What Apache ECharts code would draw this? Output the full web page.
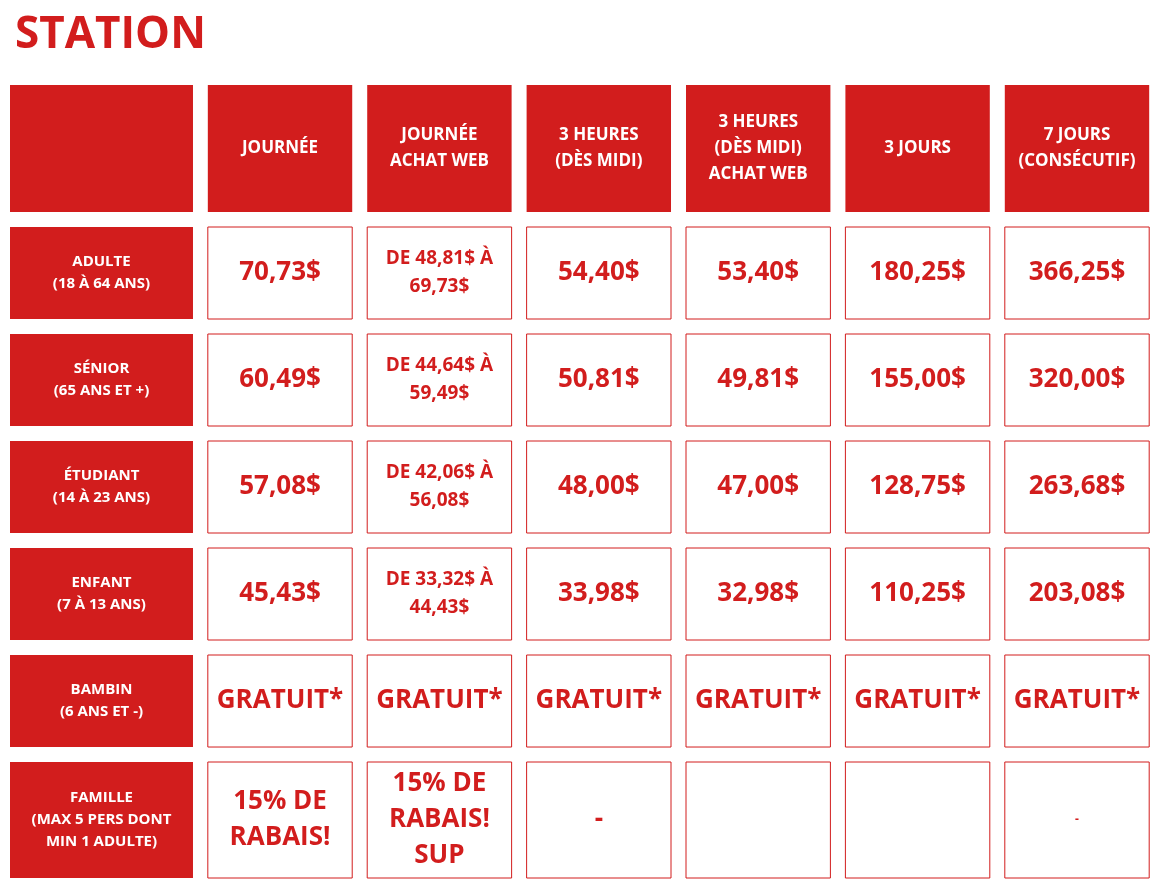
<!DOCTYPE html>
<html><head><meta charset="utf-8">
<script src="https://cdn.jsdelivr.net/npm/echarts@6/dist/echarts.min.js"></script>
<style>html,body{margin:0;background:#fff}#c{width:1150px;height:879px}</style>
</head><body><div id="c"></div>
<script>
const title = 'STATION';
const headers = ['', 'JOURNÉE', 'JOURNÉE\n{u|ACHAT WEB}', '3 HEURES\n(DÈS MIDI)', '3 HEURES\n(DÈS MIDI)\n{u|ACHAT WEB}', '3 JOURS', '7 JOURS\n(CONSÉCUTIF)'];
const rowLabels = ['ADULTE\n(18 À 64 ANS)', 'SÉNIOR\n(65 ANS ET +)', 'ÉTUDIANT\n(14 À 23 ANS)', 'ENFANT\n(7 À 13 ANS)', 'BAMBIN\n(6 ANS ET -)', 'FAMILLE\n(MAX 5 PERS DONT\nMIN 1 ADULTE)'];
const values = [
  ['70,73$', 'DE 48,81$ À\n69,73$', '54,40$', '53,40$', '180,25$', '366,25$'],
  ['60,49$', 'DE 44,64$ À\n59,49$', '50,81$', '49,81$', '155,00$', '320,00$'],
  ['57,08$', 'DE 42,06$ À\n56,08$', '48,00$', '47,00$', '128,75$', '263,68$'],
  ['45,43$', 'DE 33,32$ À\n44,43$', '33,98$', '32,98$', '110,25$', '203,08$'],
  ['GRATUIT*', 'GRATUIT*', 'GRATUIT*', 'GRATUIT*', 'GRATUIT*', 'GRATUIT*'],
  ['15% DE\nRABAIS!', '15% DE\nRABAIS!\nSUP', '-', '', '', '-']
];
const RED = '#d21d1d';
const data = [];
headers.forEach((h, c) => data.push([c, 0, h]));
rowLabels.forEach((l, r) => {
  data.push([0, r + 1, l]);
  values[r].forEach((v, c) => data.push([c + 1, r + 1, v]));
});
function renderItem(params, api) {
  const c = api.value(0), r = api.value(1), txt = data[params.dataIndex][2];
  let cx = c, cy = r, w = 1 - 15 / 159.4, h = 1 - 15 / 107;
  if (c === 0) { cx = -0.12; w = 1.148; }
  if (r === 0) { cy = -0.164; h = 1.187; }
  if (r === 6) { cy = 6.112; h = 1.084; }
  const p = api.coord([cx, cy]);
  const s = api.size([w, h]);
  const filled = c === 0 || r === 0;
  let fs = 26, lh = 31;
  if (filled) { fs = r === 0 ? 17 : 15; lh = r === 0 ? 26 : 22; }
  else if (txt.startsWith('DE ')) { fs = 19; lh = 28; }
  else if (r === 6) { fs = 26; lh = 36; if (c === 6) fs = 12; }
  return {
    type: 'group',
    children: [
      { type: 'rect', shape: { x: p[0] - s[0] / 2, y: p[1] - s[1] / 2, width: s[0], height: s[1] },
        style: { fill: filled ? RED : '#fff', stroke: filled ? null : RED, lineWidth: 1 } },
      { type: 'text', x: p[0], y: p[1],
        style: { text: txt, fill: filled ? '#fff' : RED, align: 'center', verticalAlign: 'middle',
          font: 'bold ' + fs + 'px "Open Sans", sans-serif', lineHeight: lh,
          rich: { u: { fill: '#fff', fontSize: fs, fontWeight: 'bold', fontFamily: 'Open Sans', lineHeight: lh,
            borderWidth: 0, padding: [0, 0, 0, 0] } } } }
    ]
  };
}
const chart = echarts.init(document.getElementById('c'));
chart.setOption({
  animation: false,
  title: { text: title, left: 10, top: 8, textStyle: { color: RED, fontSize: 44, fontWeight: 'bold', fontFamily: 'Open Sans' } },
  grid: { left: 10, right: 0, top: 85, bottom: 1 },
  xAxis: { type: 'value', min: -0.694, max: 6.458, show: false },
  yAxis: { type: 'value', min: -0.757, max: 6.654, inverse: true, show: false },
  series: [{ type: 'custom', renderItem, data, encode: { x: 0, y: 1 } }]
});
// underline for ACHAT WEB
</script></body></html>
